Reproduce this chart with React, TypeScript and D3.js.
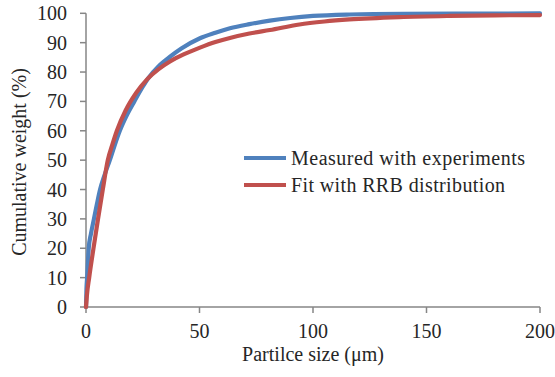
import React from "react";
import * as d3 from "d3";

const measuredX = [0, 0.2, 0.5, 1.2, 2.2, 3.5, 4.8, 6.2, 8.2, 10.5, 12.6, 14.9, 17.8, 21.3, 25.0, 27.5, 32, 37, 42, 50.2, 57, 63.4, 72, 81, 90, 100, 116, 140, 170, 200];
const measuredY = [0, 6, 10, 20, 25, 30, 35, 40, 45, 50, 55, 60, 65, 70, 75, 78, 82, 85.2, 88, 91.5, 93.4, 94.9, 96.3, 97.5, 98.4, 99.1, 99.6, 99.85, 99.9, 99.95];

const fitX = [0, 0.4, 1.4, 3.3, 5.3, 7.4, 9.6, 11.5, 13.6, 17.5, 22, 27, 32, 37, 43, 50.2, 57, 63.4, 72, 81, 94, 105, 116, 138, 160, 180, 200];
const fitY = [0, 4, 10, 20, 30, 40, 50, 55, 60, 67, 72.8, 77.6, 81, 83.6, 86, 88.3, 90.2, 91.6, 93.1, 94.3, 96.2, 97.2, 97.9, 98.7, 99.1, 99.3, 99.4];

const xTicks = [0, 50, 100, 150, 200];
const yTicks = [0, 10, 20, 30, 40, 50, 60, 70, 80, 90, 100];

const seriesNames = ["Measured with experiments", "Fit with RRB distribution"];
const seriesColors = ["#4F81BD", "#C0504D"];

const xTitle = "Partilce size (μm)";
const yTitle = "Cumulative weight (%)";

export default function App() {
  const W = 555, H = 377;
  const x = d3.scaleLinear().domain([0, 200]).range([86, 540]);
  const y = d3.scaleLinear().domain([0, 100]).range([307, 13.3]);
  const line = d3
    .line<[number, number]>()
    .x((d) => x(d[0]))
    .y((d) => y(d[1]))
    .curve(d3.curveMonotoneX);
  const mData = measuredX.map((v, i) => [v, measuredY[i]] as [number, number]);
  const fData = fitX.map((v, i) => [v, fitY[i]] as [number, number]);
  const font = '"Liberation Serif", "Tinos", "Times New Roman", "DejaVu Serif", serif';
  const axisColor = "#868686";
  const textColor = "#262626";
  const legendY = [158, 185];
  const ts = { fontFamily: font };

  return (
    <svg width={W} height={H} style={{ position: "absolute", left: 0, top: 0, background: "#fff", fontFamily: font }}>
      <rect x={0} y={0} width={W} height={H} fill="#fff" />
      <line x1={x(0)} x2={x(0)} y1={y(0)} y2={y(100)} stroke={axisColor} strokeWidth={1.5} />
      <line x1={x(0)} x2={x(200)} y1={y(0)} y2={y(0)} stroke={axisColor} strokeWidth={1.5} />
      {yTicks.map((t) => (
        <g key={"y" + t}>
          <line x1={x(0) - 6} x2={x(0)} y1={y(t)} y2={y(t)} stroke={axisColor} strokeWidth={1.5} />
          <text x={67} y={y(t)} dy="0.35em" textAnchor="end" fontSize={20} fill={textColor} style={ts}>
            {t}
          </text>
        </g>
      ))}
      {xTicks.map((t) => (
        <g key={"x" + t}>
          <line x1={x(t)} x2={x(t)} y1={y(0)} y2={y(0) + 6} stroke={axisColor} strokeWidth={1.5} />
          <text x={x(t)} y={338} textAnchor="middle" fontSize={20} fill={textColor} style={ts}>
            {t}
          </text>
        </g>
      ))}
      <text x={313} y={361} textAnchor="middle" fontSize={20} fill={textColor} style={ts}>
        {xTitle}
      </text>
      <text transform={`translate(26,162) rotate(-90)`} textAnchor="middle" fontSize={20} fill={textColor} style={ts}>
        {yTitle}
      </text>
      <path d={line(mData) || ""} fill="none" stroke={seriesColors[0]} strokeWidth={4.2} strokeLinejoin="round" strokeLinecap="round" />
      <path d={line(fData) || ""} fill="none" stroke={seriesColors[1]} strokeWidth={4.2} strokeLinejoin="round" strokeLinecap="round" />
      {seriesNames.map((n, i) => (
        <g key={n}>
          <line x1={244} x2={286} y1={legendY[i]} y2={legendY[i]} stroke={seriesColors[i]} strokeWidth={4.2} />
          <text
            x={291}
            y={legendY[i] + 7}
            fontSize={20}
            fill={textColor}
            style={ts}
            textLength={i === 0 ? 234 : 214}
            lengthAdjust="spacing"
          >
            {n}
          </text>
        </g>
      ))}
    </svg>
  );
}
